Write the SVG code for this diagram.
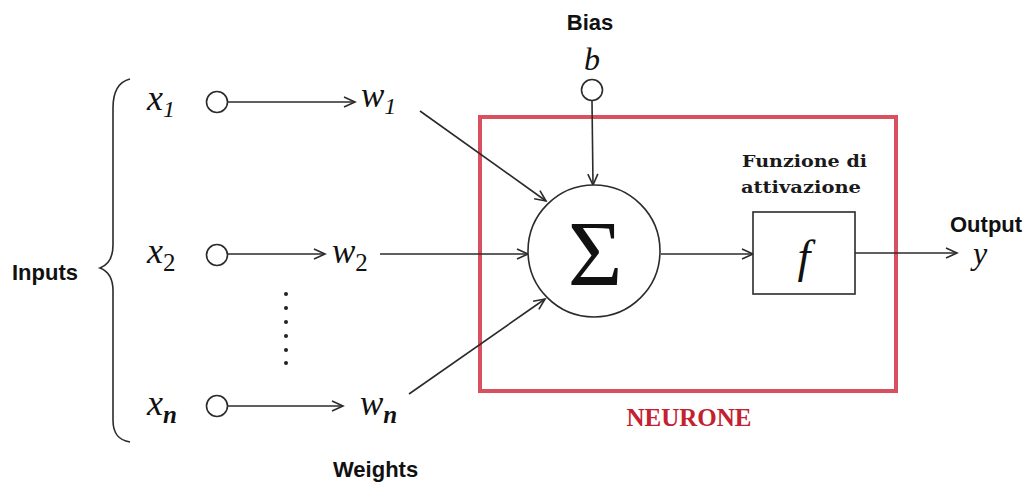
<svg xmlns="http://www.w3.org/2000/svg" width="1030" height="483" viewBox="0 0 1030 483">
<style>
.ln{stroke:#2b2b2b;stroke-width:1.6;fill:none}
.nd{stroke:#2b2b2b;stroke-width:1.6;fill:#fff}
.math{font-family:"Liberation Serif",serif;font-style:italic;fill:#111}
.lbl{font-family:"Liberation Sans",Arial,sans-serif;font-weight:bold;font-size:22px;fill:#111}
.srf{font-family:"DejaVu Serif","Liberation Serif",serif;font-weight:bold;fill:#1a1a1a}
</style>
<defs>
<marker id="arr" markerUnits="userSpaceOnUse" markerWidth="14" markerHeight="12" refX="12" refY="6" orient="auto">
<path d="M1,1 L12,6 L1,11" fill="none" stroke="#2b2b2b" stroke-width="1.6"/>
</marker>
</defs>
<rect width="1030" height="483" fill="#fff"/>

<g id="neurone-box">
<rect x="480" y="117" width="416" height="274" fill="none" stroke="#d9505e" stroke-width="4"/>
<text x="689" y="426" text-anchor="middle" font-family="'Liberation Serif',serif" font-weight="bold" font-size="25" fill="#c4202f">NEURONE</text>
</g>

<g id="connectors">
<line class="ln" x1="228" y1="102" x2="355" y2="102" marker-end="url(#arr)"/>
<line class="ln" x1="228" y1="254" x2="325" y2="254" marker-end="url(#arr)"/>
<line class="ln" x1="228" y1="406" x2="343" y2="406" marker-end="url(#arr)"/>
<line class="ln" x1="420" y1="111" x2="546" y2="201" marker-end="url(#arr)"/>
<line class="ln" x1="380" y1="254" x2="528" y2="254" marker-end="url(#arr)"/>
<line class="ln" x1="409" y1="394" x2="545" y2="299" marker-end="url(#arr)"/>
<line class="ln" x1="592" y1="101" x2="593" y2="185" marker-end="url(#arr)"/>
<line class="ln" x1="661" y1="254" x2="753" y2="254" marker-end="url(#arr)"/>
<line class="ln" x1="855" y1="253" x2="957" y2="253" marker-end="url(#arr)"/>
</g>

<g id="inputs-brace">
<path class="ln" stroke-width="2" d="M130,79 C118,82 113,92 113,108 L113,245 C113,258 108,265 100,268 C108,271 113,278 113,291 L113,420 C113,433 118,440 130,442"/>
<text class="lbl" x="12" y="280">Inputs</text>
</g>

<g id="x1">
<circle class="nd" cx="217" cy="102" r="10.5"/>
<text class="math" x="147" y="110" font-size="36">x<tspan font-size="24" dy="7">1</tspan></text>
</g>
<g id="x2">
<circle class="nd" cx="217" cy="255" r="10.5"/>
<text class="math" x="147" y="263" font-size="36">x<tspan font-size="25" dy="8" font-style="normal">2</tspan></text>
</g>
<g id="xn">
<circle class="nd" cx="217" cy="406" r="10.5"/>
<text class="math" x="147" y="415" font-size="36">x<tspan font-size="25" dy="8" font-weight="bold">n</tspan></text>
</g>

<g id="dots" fill="#222">
<circle cx="286" cy="294" r="2"/>
<circle cx="286" cy="308" r="2"/>
<circle cx="286" cy="322" r="2"/>
<circle cx="286" cy="336" r="2"/>
<circle cx="286" cy="350" r="2"/>
<circle cx="286" cy="363" r="2"/>
</g>

<g id="w1"><text class="math" x="361" y="107" font-size="35">w<tspan font-size="24" dy="7">1</tspan></text></g>
<g id="w2"><text class="math" x="332" y="263" font-size="35">w<tspan font-size="25" dy="8" font-style="normal">2</tspan></text></g>
<g id="wn"><text class="math" x="360" y="415" font-size="35">w<tspan font-size="25" dy="8" font-weight="bold">n</tspan></text></g>
<g id="weights-label"><text class="lbl" x="333" y="477">Weights</text></g>

<g id="bias">
<text class="lbl" x="590" y="30" text-anchor="middle">Bias</text>
<text class="math" x="592" y="70" font-size="32" text-anchor="middle">b</text>
<circle class="nd" cx="592" cy="90" r="10.5"/>
</g>

<g id="sum">
<circle class="nd" cx="594" cy="251" r="66"/>
<text x="595" y="285" text-anchor="middle" font-family="'Liberation Serif',serif" font-size="94" fill="#111">Σ</text>
</g>

<g id="activation">
<text class="srf" x="742" y="167" font-size="17" textLength="125" lengthAdjust="spacingAndGlyphs">Funzione di</text>
<text class="srf" x="741" y="193" font-size="17" textLength="120" lengthAdjust="spacingAndGlyphs">attivazione</text>
<rect class="nd" x="753" y="212" width="102" height="82"/>
<text class="math" x="804" y="272" font-size="46" text-anchor="middle">f</text>
</g>

<g id="output">
<text class="lbl" x="950" y="232">Output</text>
<text class="math" x="980" y="264" font-size="32" text-anchor="middle">y</text>
</g>
</svg>
